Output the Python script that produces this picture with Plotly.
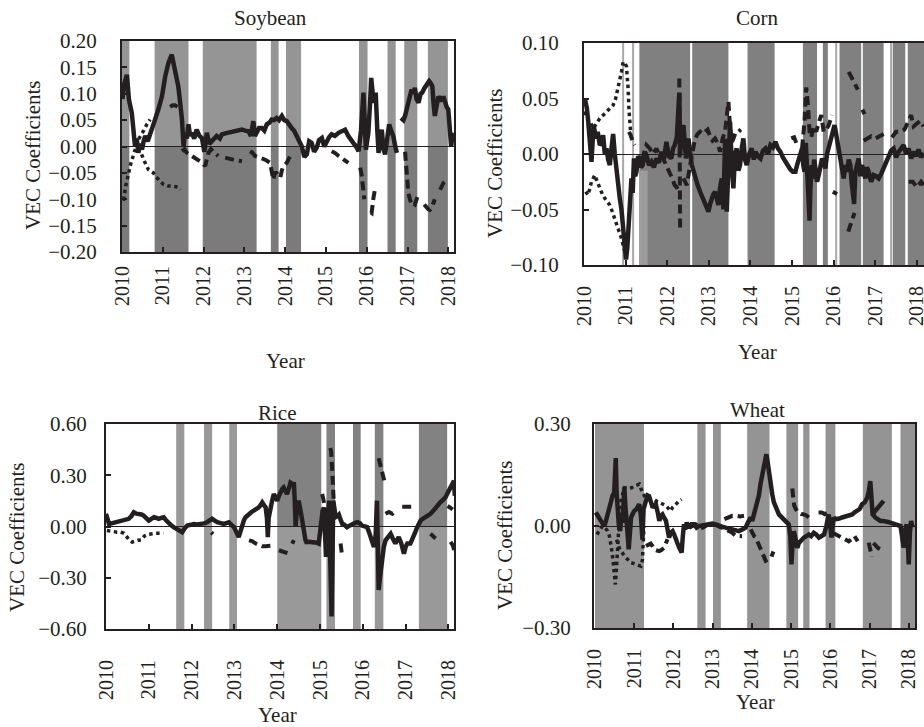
import plotly.graph_objects as go

# ---------------- data ----------------
years = [2010, 2011, 2012, 2013, 2014, 2015, 2016, 2017, 2018]
year_labels = [str(y) for y in years]

soy_yticks = [-0.20, -0.15, -0.10, -0.05, 0.00, 0.05, 0.10, 0.15, 0.20]
corn_yticks = [-0.10, -0.05, 0.00, 0.05, 0.10]
rice_yticks = [-0.60, -0.30, 0.00, 0.30, 0.60]
wheat_yticks = [-0.30, 0.00, 0.30]

titles = ["Soybean", "Corn", "Rice", "Wheat"]

# shaded regimes (start year, end year)
soy_band_start = [2010.00, 2010.80, 2011.98, 2013.65, 2014.02, 2015.81, 2016.51, 2016.92, 2017.50]
soy_band_end = [2010.18, 2011.63, 2013.30, 2013.84, 2014.39, 2016.02, 2016.71, 2017.24, 2017.99]

corn_band_start = [2011.33, 2012.60, 2013.93, 2015.26, 2015.74, 2016.14, 2016.70, 2017.42, 2017.78]
corn_band_end = [2012.55, 2013.47, 2014.58, 2015.60, 2015.86, 2016.66, 2017.20, 2017.72, 2018.17]
corn_light_band = [2011.33, 2011.53]
corn_thin_lines = [2010.94, 2011.18, 2016.06, 2017.38]

rice_thin_start = [2011.64, 2012.29, 2012.88]
rice_thin_end = [2011.83, 2012.48, 2013.06]
rice_band_start = [2014.00, 2015.15, 2015.77, 2016.28, 2017.31]
rice_band_end = [2015.03, 2015.35, 2015.95, 2016.48, 2017.97]

wheat_band_start = [2010.00, 2012.61, 2013.01, 2013.88, 2014.88, 2015.31, 2015.88, 2016.83, 2017.79]
wheat_band_end = [2011.25, 2012.82, 2013.21, 2014.45, 2015.18, 2015.47, 2016.13, 2017.57, 2018.16]

G = (None, None)

soy_solid = [
    (2010.01, 0.09), (2010.06, 0.12), (2010.12, 0.136), (2010.17, 0.089), (2010.24, 0.064), (2010.28, 0.02),
    (2010.32, 0.0), (2010.36, 0.015), (2010.40, -0.012), (2010.45, 0.005), (2010.49, -0.006), (2010.53, 0.01),
    (2010.57, 0.02), (2010.63, 0.01), (2010.69, 0.026), (2010.75, 0.04), (2010.81, 0.051), (2010.89, 0.07),
    (2010.98, 0.095), (2011.06, 0.133), (2011.14, 0.159), (2011.22, 0.174), (2011.26, 0.16), (2011.30, 0.146),
    (2011.38, 0.114), (2011.43, 0.08), (2011.47, 0.051), (2011.51, 0.0), (2011.55, 0.026), (2011.59, 0.015),
    (2011.63, 0.042), (2011.67, 0.02), (2011.71, 0.026), (2011.77, 0.015), (2011.83, 0.032), (2011.90, 0.02),
    (2011.96, 0.016), (2012.02, -0.01), (2012.08, 0.026), (2012.14, 0.005), (2012.20, 0.01), (2012.26, 0.018),
    (2012.32, 0.02), (2012.40, 0.015), (2012.45, 0.023), (2012.53, 0.025), (2012.61, 0.026), (2012.69, 0.027),
    (2012.77, 0.029), (2012.86, 0.03), (2012.94, 0.032), (2013.02, 0.03), (2013.10, 0.029), (2013.16, 0.02),
    (2013.22, 0.048), (2013.26, 0.02), (2013.30, 0.026), (2013.36, 0.035), (2013.43, 0.035), (2013.49, 0.03),
    (2013.55, 0.042), (2013.61, 0.045), (2013.67, 0.051), (2013.73, 0.05), (2013.79, 0.054), (2013.85, 0.05),
    (2013.92, 0.058), (2013.98, 0.05), (2014.04, 0.048), (2014.10, 0.04), (2014.16, 0.035), (2014.22, 0.03),
    (2014.28, 0.02), (2014.34, 0.01), (2014.41, 0.0), (2014.47, -0.02), (2014.53, -0.015), (2014.59, 0.01),
    (2014.65, 0.007), (2014.71, -0.01), (2014.77, -0.003), (2014.83, 0.012), (2014.90, 0.016), (2014.96, 0.0),
    (2015.02, 0.01), (2015.08, 0.018), (2015.14, 0.023), (2015.22, 0.02), (2015.31, 0.026), (2015.39, 0.028),
    (2015.47, 0.032), (2015.55, 0.02), (2015.61, 0.015), (2015.67, 0.007), (2015.74, 0.0), (2015.80, -0.009),
    (2015.86, 0.03), (2015.92, 0.102), (2015.98, -0.006), (2016.04, 0.026), (2016.08, 0.08), (2016.11, 0.13),
    (2016.17, 0.083), (2016.22, 0.102), (2016.26, 0.03), (2016.29, -0.012), (2016.37, 0.032), (2016.41, -0.005),
    (2016.45, -0.015), (2016.50, 0.02), (2016.55, 0.042), (2016.60, 0.03), (2016.65, 0.02), (2016.70, 0.0),
    (2016.74, -0.012), G,
    (2016.84, 0.054), (2016.90, 0.05), (2016.94, 0.058), (2017.02, 0.083), (2017.06, 0.1), (2017.10, 0.108),
    (2017.14, 0.1), (2017.18, 0.111), (2017.22, 0.09), (2017.27, 0.083), (2017.32, 0.1), (2017.36, 0.102),
    (2017.41, 0.11), (2017.45, 0.114), (2017.49, 0.118), (2017.53, 0.124), (2017.57, 0.12), (2017.61, 0.114),
    (2017.64, 0.08), (2017.67, 0.058), (2017.72, 0.08), (2017.76, 0.095), (2017.80, 0.09), (2017.84, 0.086),
    (2017.88, 0.095), (2017.92, 0.083), (2017.96, 0.075), (2018.00, 0.07), (2018.04, 0.04), (2018.07, 0.0),
    (2018.10, 0.02), (2018.13, 0.026)]

soy_dashed = [
    (2011.18, 0.075), (2011.24, 0.078), (2011.30, 0.078), (2011.36, 0.075), G,
    (2011.47, -0.009), (2011.53, -0.005), (2011.59, -0.012), (2011.65, -0.015), (2011.71, -0.018),
    (2011.79, -0.02), (2011.87, -0.025), (2011.95, -0.03), (2012.04, -0.037), (2012.08, -0.02),
    (2012.12, -0.012), (2012.18, -0.005), (2012.24, -0.009), (2012.30, -0.012), (2012.36, -0.018), G,
    (2012.53, -0.021), (2012.65, -0.024), (2012.77, -0.026), (2012.86, -0.027), (2012.94, -0.028), G,
    (2013.14, -0.009), (2013.20, -0.012), (2013.26, -0.018), (2013.39, -0.021), (2013.51, -0.025),
    (2013.63, -0.031), (2013.67, -0.045), (2013.71, -0.063), (2013.75, -0.05), (2013.79, -0.05),
    (2013.84, -0.055), (2013.88, -0.059), (2013.92, -0.045), (2013.96, -0.037), (2014.04, -0.031),
    (2014.10, -0.02), (2014.16, -0.012), G,
    (2015.14, -0.009), (2015.22, -0.012), (2015.31, -0.018), (2015.43, -0.025), (2015.55, -0.031), G,
    (2015.84, -0.04), (2015.88, -0.056), (2015.94, -0.1), G,
    (2016.10, -0.125), (2016.12, -0.126), (2016.16, -0.1), (2016.20, -0.082), G,
    (2016.94, -0.01), (2016.98, -0.044), (2017.02, -0.088), (2017.06, -0.1), (2017.10, -0.11),
    (2017.14, -0.108), (2017.18, -0.11), (2017.25, -0.094), G,
    (2017.41, -0.11), (2017.46, -0.115), (2017.51, -0.119), (2017.55, -0.12), (2017.59, -0.116),
    (2017.63, -0.108), (2017.67, -0.1), G,
    (2017.80, -0.082), (2017.84, -0.075), (2017.88, -0.069), (2017.94, -0.065), (2018.00, -0.063)]

soy_dotted = [
    (2010.02, -0.1), (2010.04, -0.1), (2010.09, -0.075), (2010.16, -0.05), (2010.22, -0.031), (2010.31, -0.009),
    (2010.40, 0.013), (2010.50, 0.026), (2010.55, 0.035), (2010.61, 0.042), (2010.69, 0.051), G,
    (2010.48, -0.015), (2010.53, -0.025), (2010.59, -0.035), (2010.65, -0.044), (2010.71, -0.047),
    (2010.77, -0.05), (2010.83, -0.057), (2010.89, -0.063), (2010.96, -0.068), (2011.02, -0.072),
    (2011.08, -0.074), (2011.14, -0.075), (2011.20, -0.075), (2011.26, -0.075), (2011.32, -0.076),
    (2011.38, -0.078), (2011.43, -0.082)]

corn_solid = [
    (2010.02, 0.05), (2010.05, 0.045), (2010.07, 0.041), (2010.10, 0.03), (2010.14, 0.014), (2010.18, -0.007),
    (2010.23, 0.026), (2010.29, 0.014), (2010.33, 0.02), (2010.38, 0.008), (2010.42, 0.01), (2010.46, 0.017),
    (2010.50, 0.0), (2010.54, 0.005), (2010.58, -0.005), (2010.62, -0.01), (2010.66, 0.005), (2010.70, 0.018),
    (2010.74, 0.0), (2010.78, -0.016), (2010.82, -0.025), (2010.86, -0.04), (2010.90, -0.05), (2010.94, -0.064),
    (2010.98, -0.08), (2011.01, -0.095), (2011.04, -0.085), (2011.08, -0.058), (2011.11, -0.04), (2011.14, -0.022),
    (2011.17, -0.035), (2011.20, -0.004), (2011.23, -0.02), (2011.26, -0.016), (2011.30, -0.002), (2011.33, -0.004),
    (2011.37, -0.012), (2011.41, -0.01), (2011.46, 0.002), (2011.50, -0.001), (2011.56, -0.01), (2011.62, -0.007),
    (2011.68, -0.012), (2011.74, -0.004), (2011.80, -0.008), (2011.86, 0.002), (2011.92, -0.005), (2011.98, 0.011),
    (2012.04, -0.002), (2012.10, -0.004), (2012.14, 0.005), (2012.18, 0.008), (2012.23, 0.015), (2012.27, 0.035),
    (2012.29, 0.055), (2012.31, -0.001), (2012.35, 0.02), (2012.39, 0.026), (2012.42, 0.0), (2012.45, -0.004),
    (2012.51, 0.014), (2012.55, 0.0), (2012.59, -0.01), (2012.63, -0.015), (2012.67, -0.022), (2012.73, -0.028),
    (2012.79, -0.034), (2012.85, -0.04), (2012.91, -0.046), (2012.95, -0.05), (2012.99, -0.052), (2013.03, -0.045),
    (2013.07, -0.04), (2013.11, -0.036), (2013.15, -0.034), (2013.19, -0.04), (2013.23, -0.046), (2013.27, -0.03),
    (2013.31, -0.022), (2013.35, -0.05), (2013.39, 0.014), (2013.43, -0.052), (2013.47, 0.0), (2013.51, 0.029),
    (2013.55, -0.01), (2013.59, -0.031), (2013.63, 0.0), (2013.67, 0.005), (2013.71, -0.015), (2013.75, -0.01),
    (2013.79, 0.005), (2013.83, 0.014), (2013.87, -0.005), (2013.91, -0.01), (2013.97, 0.0), (2014.03, 0.005),
    (2014.08, -0.005), (2014.12, 0.002), (2014.18, -0.002), (2014.24, -0.004), (2014.30, 0.003), (2014.36, 0.005),
    (2014.42, 0.0), (2014.48, 0.008), (2014.54, 0.006), (2014.60, 0.011), (2014.66, 0.005), (2014.72, 0.002),
    (2014.78, -0.003), (2014.84, -0.007), (2014.90, -0.01), (2014.96, -0.014), (2015.02, -0.016), (2015.08, -0.016),
    (2015.12, -0.01), (2015.16, -0.004), (2015.20, 0.0), (2015.24, 0.005), (2015.27, -0.01), (2015.30, -0.016),
    (2015.33, 0.01), (2015.36, -0.01), (2015.38, -0.03), (2015.40, -0.052), (2015.42, -0.06), (2015.44, -0.031),
    (2015.47, -0.01), (2015.50, -0.022), (2015.53, -0.005), (2015.56, -0.013), (2015.60, -0.025), (2015.64, -0.019),
    (2015.68, -0.01), (2015.72, -0.004), (2015.76, -0.008), (2015.80, -0.013), (2015.84, 0.0), (2015.88, 0.005),
    (2015.92, 0.01), (2015.96, 0.017), (2016.02, 0.026), (2016.05, 0.02), (2016.08, 0.014), (2016.12, 0.005),
    (2016.16, -0.001), (2016.20, -0.01), (2016.24, -0.022), (2016.28, -0.01), (2016.32, -0.016), (2016.36, -0.005),
    (2016.40, -0.01), (2016.43, -0.025), (2016.46, -0.037), (2016.49, -0.045), (2016.52, -0.016), (2016.56, -0.01),
    (2016.60, -0.004), (2016.64, -0.02), (2016.68, -0.01), (2016.72, -0.015), (2016.76, -0.022), (2016.80, -0.012),
    (2016.84, -0.016), (2016.90, -0.025), (2016.96, -0.019), (2017.02, -0.02), (2017.08, -0.022), (2017.14, -0.018),
    (2017.20, -0.013), (2017.26, -0.008), (2017.32, -0.001), (2017.38, 0.003), (2017.44, 0.005), (2017.50, -0.003),
    (2017.56, 0.002), (2017.62, 0.006), (2017.68, 0.008), (2017.74, 0.0), (2017.80, 0.005), (2017.86, -0.004),
    (2017.92, 0.002), (2017.98, -0.002), (2018.04, 0.004), (2018.10, -0.003), (2018.16, 0.001)]

corn_dashed = [
    (2011.08, 0.02), (2011.12, 0.017), (2011.18, 0.01), (2011.22, 0.008), G,
    (2011.40, -0.005), (2011.50, 0.008), (2011.58, 0.005), (2011.66, 0.0), (2011.74, 0.005), (2011.82, -0.002),
    (2011.90, -0.004), (2011.98, -0.01), (2012.06, -0.016), (2012.12, -0.022), (2012.18, -0.028), (2012.23, -0.03),
    (2012.27, -0.034), G,
    (2012.29, 0.068), (2012.30, 0.0), (2012.31, -0.07), G,
    (2012.39, -0.022), (2012.47, -0.028), (2012.55, -0.01), (2012.61, 0.005), (2012.67, 0.014), (2012.73, 0.018),
    (2012.79, 0.02), (2012.85, 0.018), (2012.91, 0.02), (2012.97, 0.022), (2013.03, 0.016), (2013.09, 0.012),
    (2013.15, 0.014), (2013.21, 0.01), (2013.27, 0.002), (2013.33, 0.014), (2013.39, 0.02), (2013.43, 0.035),
    (2013.47, 0.047), (2013.51, 0.025), (2013.55, 0.01), (2013.59, 0.014), (2013.65, 0.02), (2013.71, 0.02),
    (2013.77, 0.022), G,
    (2014.98, 0.014), (2015.05, 0.015), (2015.12, 0.008), G,
    (2015.24, 0.005), (2015.30, 0.03), (2015.34, 0.06), (2015.38, 0.045), (2015.42, 0.02), (2015.46, 0.015),
    (2015.52, 0.025), (2015.58, 0.02), (2015.64, 0.028), (2015.70, 0.035), (2015.76, 0.02), (2015.82, 0.022),
    (2015.88, 0.026), (2015.96, 0.035), G,
    (2015.98, -0.034), (2016.03, -0.035), (2016.08, -0.036), G,
    (2016.36, 0.074), (2016.42, 0.07), (2016.50, 0.064), (2016.58, 0.058), G,
    (2016.35, -0.07), (2016.40, -0.064), (2016.45, -0.058), (2016.50, -0.053), G,
    (2016.69, 0.04), (2016.74, 0.036), G,
    (2016.72, 0.012), (2016.80, 0.014), (2016.90, 0.016), (2017.00, 0.014), (2017.10, 0.016), (2017.20, 0.018), G,
    (2017.40, 0.015), (2017.50, 0.02), (2017.60, 0.02), (2017.70, 0.022), (2017.80, 0.03), (2017.86, 0.035),
    (2017.92, 0.025), (2018.00, 0.028), (2018.08, 0.03), (2018.16, 0.025), G,
    (2017.80, -0.025), (2017.90, -0.025), (2018.00, -0.03), (2018.10, -0.025), (2018.16, -0.028)]

corn_dotted = [
    (2010.02, 0.035), (2010.06, 0.04), (2010.10, 0.03), (2010.16, 0.028), (2010.22, 0.023), (2010.30, 0.028),
    (2010.38, 0.032), (2010.46, 0.035), (2010.54, 0.038), (2010.62, 0.041), (2010.70, 0.044), (2010.76, 0.05),
    (2010.82, 0.059), (2010.86, 0.066), (2010.90, 0.074), (2010.94, 0.083), (2010.98, 0.082), (2011.02, 0.079),
    (2011.04, 0.07), (2011.06, 0.059), (2011.08, 0.04), (2011.10, 0.029), (2011.12, 0.02), G,
    (2010.04, -0.034), (2010.10, -0.037), (2010.18, -0.025), (2010.26, -0.019), (2010.32, -0.025),
    (2010.38, -0.031), (2010.44, -0.036), (2010.50, -0.04), (2010.56, -0.043), (2010.62, -0.046),
    (2010.68, -0.052), (2010.74, -0.058), (2010.80, -0.064), (2010.86, -0.07), (2010.90, -0.076),
    (2010.94, -0.082), (2010.98, -0.088), (2011.00, -0.091)]

rice_solid = [
    (2010.00, 0.074), (2010.04, 0.03), (2010.07, 0.015), (2010.15, 0.02), (2010.22, 0.025), (2010.30, 0.03),
    (2010.38, 0.035), (2010.45, 0.04), (2010.53, 0.045), (2010.59, 0.06), (2010.65, 0.083), (2010.71, 0.075),
    (2010.77, 0.074), (2010.83, 0.07), (2010.88, 0.064), (2010.94, 0.05), (2011.00, 0.035), (2011.06, 0.045),
    (2011.12, 0.054), (2011.18, 0.05), (2011.23, 0.045), (2011.29, 0.05), (2011.35, 0.054), (2011.41, 0.035),
    (2011.47, 0.015), (2011.53, 0.005), (2011.58, -0.004), (2011.64, -0.012), (2011.70, -0.023), (2011.78, -0.033),
    (2011.84, -0.01), (2011.90, 0.006), (2011.98, 0.01), (2012.05, 0.015), (2012.13, 0.012), (2012.21, 0.012),
    (2012.29, 0.018), (2012.36, 0.025), (2012.42, 0.035), (2012.48, 0.045), (2012.54, 0.035), (2012.60, 0.025),
    (2012.68, 0.02), (2012.75, 0.015), (2012.81, 0.02), (2012.87, 0.025), (2012.93, 0.01), (2012.99, -0.004),
    (2013.04, -0.03), (2013.10, -0.062), (2013.14, -0.03), (2013.18, 0.015), (2013.22, 0.035), (2013.26, 0.054),
    (2013.30, 0.065), (2013.34, 0.074), (2013.40, 0.085), (2013.45, 0.093), (2013.51, 0.1), (2013.57, 0.112),
    (2013.61, 0.125), (2013.65, 0.141), (2013.69, 0.125), (2013.73, 0.112), (2013.76, 0.05), (2013.78, -0.062),
    (2013.80, 0.05), (2013.84, 0.112), (2013.88, 0.15), (2013.92, 0.19), (2013.96, 0.17), (2014.00, 0.151),
    (2014.04, 0.18), (2014.08, 0.209), (2014.12, 0.22), (2014.15, 0.228), (2014.19, 0.2), (2014.23, 0.19),
    (2014.27, 0.22), (2014.31, 0.257), (2014.35, 0.25), (2014.39, 0.248), (2014.41, 0.15), (2014.43, 0.0),
    (2014.46, 0.1), (2014.50, 0.151), (2014.54, 0.1), (2014.58, 0.054), (2014.62, -0.02), (2014.66, -0.08),
    (2014.68, -0.091), (2014.73, -0.09), (2014.78, -0.091), (2014.84, -0.09), (2014.89, -0.092), (2014.93, -0.095),
    (2014.97, -0.1), (2015.00, -0.02), (2015.03, 0.054), (2015.06, 0.09), (2015.09, 0.112), (2015.12, -0.05),
    (2015.14, -0.178), (2015.17, 0.0), (2015.21, 0.151), (2015.23, -0.1), (2015.25, -0.4), (2015.27, -0.526),
    (2015.29, -0.2), (2015.31, 0.151), (2015.34, 0.1), (2015.36, 0.054), (2015.40, 0.06), (2015.44, 0.07),
    (2015.48, 0.04), (2015.52, 0.015), (2015.57, 0.01), (2015.63, -0.004), (2015.69, 0.005), (2015.75, 0.015),
    (2015.81, 0.02), (2015.87, 0.025), (2015.93, 0.02), (2015.98, 0.005), (2016.04, 0.0), (2016.10, -0.004),
    (2016.14, -0.03), (2016.18, -0.062), (2016.22, -0.09), (2016.26, -0.12), (2016.30, -0.05), (2016.33, 0.151),
    (2016.35, -0.1), (2016.37, -0.372), (2016.40, -0.3), (2016.45, -0.178), (2016.49, -0.12), (2016.53, -0.081),
    (2016.59, -0.06), (2016.65, -0.043), (2016.70, -0.07), (2016.76, -0.1), (2016.80, -0.08), (2016.84, -0.062),
    (2016.90, -0.1), (2016.96, -0.159), (2017.00, -0.12), (2017.04, -0.1), (2017.11, -0.1), (2017.15, -0.08),
    (2017.19, -0.062), (2017.23, -0.03), (2017.27, -0.004), (2017.31, 0.02), (2017.35, 0.035), (2017.40, 0.045),
    (2017.46, 0.054), (2017.52, 0.06), (2017.58, 0.074), (2017.64, 0.09), (2017.70, 0.112), (2017.76, 0.125),
    (2017.81, 0.141), (2017.87, 0.155), (2017.93, 0.17), (2017.99, 0.2), (2018.05, 0.228), (2018.10, 0.25),
    (2018.13, 0.267), (2018.15, 0.18)]

rice_dashed = [
    (2012.46, -0.035), (2012.50, -0.045), G,
    (2013.34, -0.081), (2013.41, -0.085), (2013.50, -0.1), (2013.57, -0.11), (2013.65, -0.115), (2013.73, -0.116),
    (2013.84, -0.113), G,
    (2014.04, -0.139), (2014.10, -0.145), (2014.15, -0.15), (2014.21, -0.155), (2014.27, -0.159), G,
    (2014.35, -0.1), (2014.39, -0.08), G,
    (2015.05, 0.19), (2015.09, 0.15), (2015.12, 0.11), G,
    (2015.24, 0.46), (2015.26, 0.44), (2015.28, 0.35), (2015.30, 0.25), (2015.32, 0.15), G,
    (2015.48, -0.1), (2015.50, -0.14), (2015.52, -0.18), G,
    (2016.37, 0.40), (2016.41, 0.36), (2016.45, 0.32), (2016.50, 0.27), G,
    (2016.53, 0.074), (2016.61, 0.085), (2016.69, 0.074), (2016.76, 0.093), G,
    (2016.92, 0.116), (2017.00, 0.118), (2017.10, 0.115), (2017.19, 0.116), G,
    (2017.58, -0.043), (2017.64, -0.055), (2017.70, -0.07), G,
    (2017.98, 0.12), (2018.04, 0.11), (2018.10, 0.1), G,
    (2018.05, -0.09), (2018.10, -0.11), (2018.14, -0.14)]

rice_dotted = [
    (2010.02, -0.024), (2010.10, -0.025), (2010.18, -0.03), (2010.26, -0.033), (2010.34, -0.033), (2010.42, -0.04),
    (2010.49, -0.062), (2010.55, -0.08), (2010.61, -0.091), (2010.68, -0.085), (2010.75, -0.081), (2010.82, -0.079),
    (2010.90, -0.055), (2011.00, -0.045), (2011.08, -0.04), (2011.16, -0.04), (2011.24, -0.04), (2011.34, -0.04)]

wheat_solid = [
    (2010.02, 0.04), (2010.04, 0.034), (2010.10, 0.025), (2010.15, 0.015), (2010.20, 0.005), (2010.24, 0.0),
    (2010.28, 0.015), (2010.32, 0.034), (2010.37, 0.06), (2010.41, 0.083), (2010.45, 0.09), (2010.49, 0.098),
    (2010.51, 0.15), (2010.53, 0.2), (2010.55, 0.1), (2010.58, 0.025), (2010.61, 0.0), (2010.64, -0.015),
    (2010.67, 0.02), (2010.70, 0.01), (2010.73, 0.06), (2010.75, 0.113), (2010.78, 0.05), (2010.80, 0.0),
    (2010.83, -0.02), (2010.86, -0.069), (2010.89, 0.0), (2010.92, 0.025), (2010.96, 0.035), (2011.00, 0.044),
    (2011.06, 0.05), (2011.13, 0.064), (2011.17, 0.03), (2011.21, -0.04), (2011.24, 0.05), (2011.30, 0.074),
    (2011.34, 0.09), (2011.38, 0.088), (2011.43, 0.07), (2011.47, 0.054), (2011.51, 0.06), (2011.55, 0.064),
    (2011.60, 0.04), (2011.64, 0.015), (2011.68, 0.03), (2011.72, 0.034), (2011.76, 0.025), (2011.81, 0.015),
    (2011.85, -0.01), (2011.89, -0.034), (2011.93, -0.02), (2011.98, -0.015), (2012.02, -0.025), (2012.06, -0.034),
    (2012.10, -0.05), (2012.15, -0.064), (2012.21, -0.078), (2012.24, -0.03), (2012.27, 0.005), (2012.30, -0.01),
    (2012.34, 0.01), (2012.40, -0.005), (2012.46, 0.005), (2012.53, 0.005), (2012.59, -0.005), (2012.65, 0.0),
    (2012.74, 0.002), (2012.82, 0.003), (2012.90, 0.005), (2012.99, 0.007), (2013.08, 0.005), (2013.16, 0.003),
    (2013.24, -0.002), (2013.33, -0.005), (2013.42, -0.008), (2013.50, -0.01), (2013.59, -0.013), (2013.67, -0.015),
    (2013.76, -0.01), (2013.84, -0.005), (2013.90, 0.01), (2013.97, 0.025), (2014.01, 0.015), (2014.05, 0.034),
    (2014.10, 0.05), (2014.14, 0.064), (2014.18, 0.09), (2014.22, 0.123), (2014.26, 0.15), (2014.31, 0.172),
    (2014.37, 0.211), (2014.40, 0.19), (2014.44, 0.152), (2014.48, 0.12), (2014.52, 0.093), (2014.56, 0.07),
    (2014.60, 0.054), (2014.65, 0.045), (2014.69, 0.034), (2014.73, 0.03), (2014.77, 0.025), (2014.82, 0.02),
    (2014.86, 0.015), (2014.90, 0.01), (2014.94, 0.005), (2014.98, -0.03), (2015.01, -0.113), (2015.04, -0.05),
    (2015.07, -0.015), (2015.12, -0.04), (2015.16, -0.064), (2015.20, -0.05), (2015.24, -0.044), (2015.29, -0.04),
    (2015.33, -0.034), (2015.39, -0.03), (2015.45, -0.025), (2015.51, -0.03), (2015.58, -0.02), (2015.64, -0.025),
    (2015.71, -0.034), (2015.77, -0.03), (2015.84, -0.025), (2015.90, 0.0), (2015.96, 0.034), (2016.00, 0.0),
    (2016.03, -0.034), (2016.06, 0.0), (2016.09, 0.025), (2016.13, 0.02), (2016.17, 0.02), (2016.23, 0.022),
    (2016.30, 0.025), (2016.36, 0.027), (2016.43, 0.03), (2016.49, 0.032), (2016.56, 0.034), (2016.62, 0.04),
    (2016.68, 0.044), (2016.75, 0.05), (2016.81, 0.064), (2016.88, 0.07), (2016.94, 0.083), (2016.98, 0.1),
    (2017.02, 0.132), (2017.05, 0.08), (2017.08, 0.034), (2017.15, 0.025), (2017.22, 0.02), (2017.28, 0.015),
    (2017.34, 0.015), (2017.40, 0.015), (2017.47, 0.012), (2017.53, 0.01), (2017.60, 0.008), (2017.66, 0.007),
    (2017.72, 0.005), (2017.79, 0.0), (2017.83, -0.03), (2017.87, -0.064), (2017.91, -0.01), (2017.95, 0.005),
    (2017.98, -0.05), (2018.00, -0.113), (2018.03, -0.02), (2018.06, 0.015), (2018.09, 0.0), (2018.12, 0.005), G,
    (2017.07, 0.034), (2017.20, 0.05), (2017.36, 0.074)]

wheat_dashed = [
    (2011.30, -0.059), (2011.36, -0.055), (2011.42, -0.052), (2011.47, -0.06), (2011.51, -0.069), (2011.58, -0.072),
    (2011.64, -0.074), (2011.70, -0.07), (2011.76, -0.064), (2011.81, -0.05), (2011.85, -0.039), G,
    (2012.40, -0.005), (2012.50, 0.0), (2012.57, 0.005), (2012.65, 0.0), (2012.74, -0.005), (2012.82, 0.0),
    (2012.91, 0.005), (2013.00, 0.003), (2013.08, 0.003), (2013.17, -0.002), (2013.25, -0.005), (2013.33, -0.01),
    (2013.42, -0.015), (2013.50, -0.02), (2013.59, -0.029), (2013.67, -0.03), (2013.75, -0.03), G,
    (2013.30, 0.02), (2013.40, 0.025), (2013.50, 0.03), (2013.60, 0.03), (2013.70, 0.028), (2013.80, 0.03), G,
    (2013.97, -0.01), (2014.01, -0.02), (2014.06, -0.03), (2014.10, -0.034), (2014.14, -0.045), (2014.18, -0.054),
    (2014.22, -0.065), (2014.27, -0.074), (2014.31, -0.09), (2014.35, -0.103), (2014.40, -0.115), (2014.44, -0.118), G,
    (2014.50, -0.09), (2014.55, -0.075), G,
    (2015.03, 0.11), (2015.05, 0.09), (2015.08, 0.06), (2015.12, 0.05), (2015.18, 0.04), (2015.26, 0.035),
    (2015.33, 0.034), (2015.40, 0.03), (2015.45, 0.025), G,
    (2015.70, 0.04), (2015.78, 0.04), (2015.86, 0.035), (2015.93, 0.04), G,
    (2016.06, -0.02), (2016.14, -0.025), (2016.22, -0.03), (2016.30, -0.035), (2016.39, -0.04), (2016.47, -0.045),
    (2016.53, -0.04), G,
    (2016.62, -0.03), (2016.66, -0.038), (2016.70, -0.045), G,
    (2016.98, -0.049), (2017.02, -0.075), (2017.06, -0.09), G,
    (2017.10, -0.05), (2017.22, -0.065), (2017.36, -0.074)]

wheat_dotted = [
    (2010.05, -0.025), (2010.12, -0.01), (2010.19, 0.0), (2010.26, -0.005), (2010.32, -0.015), (2010.37, -0.03),
    (2010.41, -0.054), (2010.44, -0.08), (2010.47, -0.113), (2010.50, -0.14), (2010.52, -0.172), (2010.55, -0.12),
    (2010.58, -0.05), (2010.60, 0.0), (2010.63, 0.04), (2010.66, 0.074), (2010.70, 0.095), (2010.75, 0.113),
    (2010.81, 0.112), (2010.87, 0.11), (2010.94, 0.113), (2011.00, 0.118), (2011.07, 0.12), (2011.13, 0.123),
    (2011.17, 0.11), (2011.21, 0.098), (2011.26, 0.088), (2011.30, 0.083), (2011.38, 0.078), (2011.45, 0.078),
    (2011.51, 0.078), (2011.57, 0.073), (2011.64, 0.069), (2011.72, 0.065), (2011.81, 0.06), (2011.87, 0.052),
    (2011.93, 0.044), (2011.98, 0.055), (2012.02, 0.06), (2012.08, 0.065), (2012.15, 0.074), (2012.21, 0.078), G,
    (2010.55, -0.04), (2010.58, -0.055), (2010.62, -0.065), (2010.66, -0.074), (2010.72, -0.085), (2010.79, -0.093),
    (2010.85, -0.1), (2010.92, -0.108), (2010.98, -0.11), (2011.04, -0.113), (2011.10, -0.115), (2011.17, -0.118),
    (2011.21, -0.1), (2011.25, 0.0)]

# ---------------- layout constants (pixels) ----------------
W, H = 924, 727
FONT = "Liberation Serif"
INK = "#231f20"

panels = [
    dict(box=(122, 454, 41, 252), xr=[2010, 2018.14], yr=[-0.2, 0.2], yt=soy_yticks,
         title=(270, 18), ytitle=(33, 155), xtitle=(285, 361), right=True, ystand=19, xstand=4),
    dict(box=(584, 924, 43, 265), xr=[2010, 2018.17], yr=[-0.1, 0.1], yt=corn_yticks,
         title=(757, 18), ytitle=(495, 163), xtitle=(757, 352), right=False, ystand=19, xstand=11),
    dict(box=(106, 454, 424, 629), xr=[2010, 2018.13], yr=[-0.6, 0.6], yt=rice_yticks,
         title=(277, 413), ytitle=(17, 537), xtitle=(277, 715), right=True, ystand=13, xstand=21),
    dict(box=(594, 915, 424, 628), xr=[2009.975, 2018.16], yr=[-0.3, 0.3], yt=wheat_yticks,
         title=(757, 410), ytitle=(505, 535), xtitle=(755, 702), right=True, ystand=17, xstand=11),
]

series = [
    (soy_solid, soy_dashed, soy_dotted),
    (corn_solid, corn_dashed, corn_dotted),
    (rice_solid, rice_dashed, rice_dotted),
    (wheat_solid, wheat_dashed, wheat_dotted),
]

fig = go.Figure()
layout = dict(width=W, height=H, margin=dict(l=0, r=0, t=0, b=0, pad=0, autoexpand=False),
              paper_bgcolor="white", plot_bgcolor="white", showlegend=False,
              font=dict(family=FONT, color=INK, size=20))
annotations = []
shapes = []

for i, (p, ser) in enumerate(zip(panels, series)):
    n = i + 1
    xa = "xaxis" if n == 1 else f"xaxis{n}"
    ya = "yaxis" if n == 1 else f"yaxis{n}"
    xr_ = "x" if n == 1 else f"x{n}"
    yr_ = "y" if n == 1 else f"y{n}"
    l, r, t, b = p["box"]
    layout[xa] = dict(domain=[l / W, r / W], range=p["xr"], anchor=yr_, automargin=False,
                      showline=True, linecolor=INK, linewidth=2, mirror=True,
                      ticks="inside", ticklen=5, tickwidth=1.5, tickcolor=INK,
                      tickvals=years, ticktext=year_labels, tickangle=-90,
                      ticklabelstandoff=p["xstand"], ticklabeloverflow="allow",
                      showgrid=False, zeroline=False,
                      tickfont=dict(family=FONT, size=20, color=INK))
    layout[ya] = dict(domain=[1 - b / H, 1 - t / H], range=p["yr"], anchor=xr_, automargin=False,
                      showline=True, linecolor=INK, linewidth=2, mirror=p["right"],
                      ticks="inside", ticklen=5, tickwidth=1.5, tickcolor=INK,
                      tickvals=p["yt"], tickformat=".2f",
                      ticklabelstandoff=p["ystand"], ticklabeloverflow="allow",
                      showgrid=False, zeroline=True, zerolinecolor=INK, zerolinewidth=1.2,
                      tickfont=dict(family=FONT, size=21, color=INK))
    for (pts, dash, width) in [(ser[2], "dot", 3.5), (ser[1], "9px,5px", 4), (ser[0], "solid", 4.5)]:
        fig.add_trace(go.Scatter(x=[q[0] for q in pts], y=[q[1] for q in pts], mode="lines",
                                 xaxis=xr_, yaxis=yr_, connectgaps=False,
                                 line=dict(color=INK, width=width, dash=dash)))
    tx, ty = p["title"]
    annotations.append(dict(text=titles[i], x=tx / W, y=1 - ty / H, xref="paper", yref="paper",
                            showarrow=False, xanchor="center", yanchor="middle",
                            font=dict(family=FONT, size=21, color=INK)))
    ax_, ay_ = p["ytitle"]
    annotations.append(dict(text="VEC Coefficients", x=ax_ / W, y=1 - ay_ / H, xref="paper", yref="paper",
                            showarrow=False, xanchor="center", yanchor="middle", textangle=-90,
                            font=dict(family=FONT, size=21, color=INK)))
    bx, by = p["xtitle"]
    annotations.append(dict(text="Year", x=bx / W, y=1 - by / H, xref="paper", yref="paper",
                            showarrow=False, xanchor="center", yanchor="middle",
                            font=dict(family=FONT, size=21, color=INK)))


def rect(xref, yref, x0, x1, y0, y1, color):
    return dict(type="rect", xref=xref, yref=yref, x0=x0, x1=x1, y0=y0, y1=y1,
                fillcolor=color, line=dict(width=0), layer="below")


for s, e in zip(soy_band_start, soy_band_end):
    shapes.append(rect("x", "y", s, e, 0, 0.2, "#959595"))
    shapes.append(rect("x", "y", s, e, -0.2, 0, "#7b7b7b"))

for s, e in zip(corn_band_start, corn_band_end):
    shapes.append(rect("x2", "y2", s, e, -0.1, 0.1, "#808080"))
shapes.append(rect("x2", "y2", corn_light_band[0], corn_light_band[1], -0.1, -0.015, "#9c9c9c"))
for v in corn_thin_lines:
    shapes.append(dict(type="line", xref="x2", yref="y2", x0=v, x1=v, y0=-0.1, y1=0.1,
                       line=dict(color="#a8a8a8", width=2), layer="below"))

for s, e in zip(rice_thin_start, rice_thin_end):
    shapes.append(rect("x3", "y3", s, e, -0.6, 0.6, "#999999"))
for s, e in zip(rice_band_start, rice_band_end):
    shapes.append(rect("x3", "y3", s, e, 0, 0.6, "#828282"))
    shapes.append(rect("x3", "y3", s, e, -0.6, 0, "#999999"))

for s, e in zip(wheat_band_start, wheat_band_end):
    shapes.append(rect("x4", "y4", s, e, -0.3, 0.3, "#949494"))

layout["annotations"] = annotations
layout["shapes"] = shapes
fig.update_layout(**layout)
fig.write_html("out.html")
